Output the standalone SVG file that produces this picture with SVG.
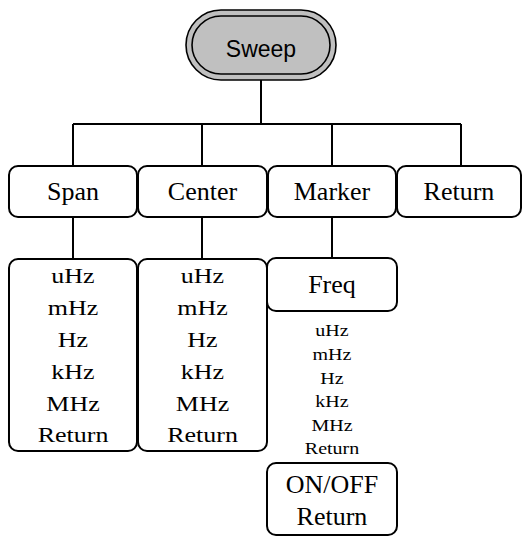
<svg xmlns="http://www.w3.org/2000/svg" width="522" height="537" viewBox="0 0 522 537">
<style>
.box{fill:#fff;stroke:#000;stroke-width:2}
.cap{fill:#c0c0c0;stroke:#000;stroke-width:1.6}
.ln{fill:none;stroke:#000;stroke-width:2}
.t{font-family:"Liberation Serif","Times New Roman",serif;font-size:26px;text-anchor:middle;fill:#000}
.s{font-family:"Liberation Serif","Times New Roman",serif;font-size:20px;text-anchor:middle;fill:#000}
.a{font-family:"Liberation Sans",Arial,sans-serif;font-size:23px;text-anchor:middle;fill:#000}
</style>
<rect width="522" height="537" fill="#fff"/>
<g id="connectors">
<path class="ln" d="M261 80V124M73 124H461M73 124V166M202 124V166M332 124V166M461 124V166"/>
<path class="ln" d="M73 217V259M202 217V259M332 217V258"/>
</g>
<g id="sweep">
<rect class="cap" x="186" y="10" width="150" height="70" rx="35"/>
<rect class="cap" x="192" y="16" width="138" height="58" rx="29"/>
<text class="a" x="261" y="57">Sweep</text>
</g>
<g id="span">
<rect class="box" x="9" y="166" width="128" height="51" rx="9"/>
<text class="t" x="73" y="200">Span</text>
</g>
<g id="center">
<rect class="box" x="138" y="166" width="129" height="51" rx="9"/>
<text class="t" x="202.5" y="200">Center</text>
</g>
<g id="marker">
<rect class="box" x="268" y="166" width="128" height="51" rx="9"/>
<text class="t" x="332" y="200">Marker</text>
</g>
<g id="return">
<rect class="box" x="397" y="166" width="124" height="51" rx="9"/>
<text class="t" x="459" y="200">Return</text>
</g>
<g id="span-units">
<rect class="box" x="9" y="259" width="128" height="192" rx="9"/>
<text class="t" transform="matrix(1,0,0,0.8,73,283)">uHz</text>
<text class="t" transform="matrix(1,0,0,0.8,73,315)">mHz</text>
<text class="t" transform="matrix(1,0,0,0.8,73,347)">Hz</text>
<text class="t" transform="matrix(1,0,0,0.8,73,378.5)">kHz</text>
<text class="t" transform="matrix(1,0,0,0.8,73,410.5)">MHz</text>
<text class="t" transform="matrix(1,0,0,0.8,73,442)">Return</text>
</g>
<g id="center-units">
<rect class="box" x="138" y="259" width="129" height="192" rx="9"/>
<text class="t" transform="matrix(1,0,0,0.8,202.5,283)">uHz</text>
<text class="t" transform="matrix(1,0,0,0.8,202.5,315)">mHz</text>
<text class="t" transform="matrix(1,0,0,0.8,202.5,347)">Hz</text>
<text class="t" transform="matrix(1,0,0,0.8,202.5,378.5)">kHz</text>
<text class="t" transform="matrix(1,0,0,0.8,202.5,410.5)">MHz</text>
<text class="t" transform="matrix(1,0,0,0.8,202.5,442)">Return</text>
</g>
<g id="freq">
<rect class="box" x="267" y="258" width="130" height="53" rx="9"/>
<text class="t" x="332" y="293">Freq</text>
</g>
<g id="freq-units">
<text class="s" transform="matrix(1,0,0,0.83,332,336.3)">uHz</text>
<text class="s" transform="matrix(1,0,0,0.83,332,359.9)">mHz</text>
<text class="s" transform="matrix(1,0,0,0.83,332,383.5)">Hz</text>
<text class="s" transform="matrix(1,0,0,0.83,332,407.1)">kHz</text>
<text class="s" transform="matrix(1,0,0,0.83,332,430.7)">MHz</text>
<text class="s" transform="matrix(1,0,0,0.83,332,454.3)">Return</text>
</g>
<g id="onoff">
<rect class="box" x="267" y="463" width="130" height="72" rx="9"/>
<text class="t" x="332" y="493">ON/OFF</text>
<text class="t" x="332" y="525">Return</text>
</g>
</svg>
